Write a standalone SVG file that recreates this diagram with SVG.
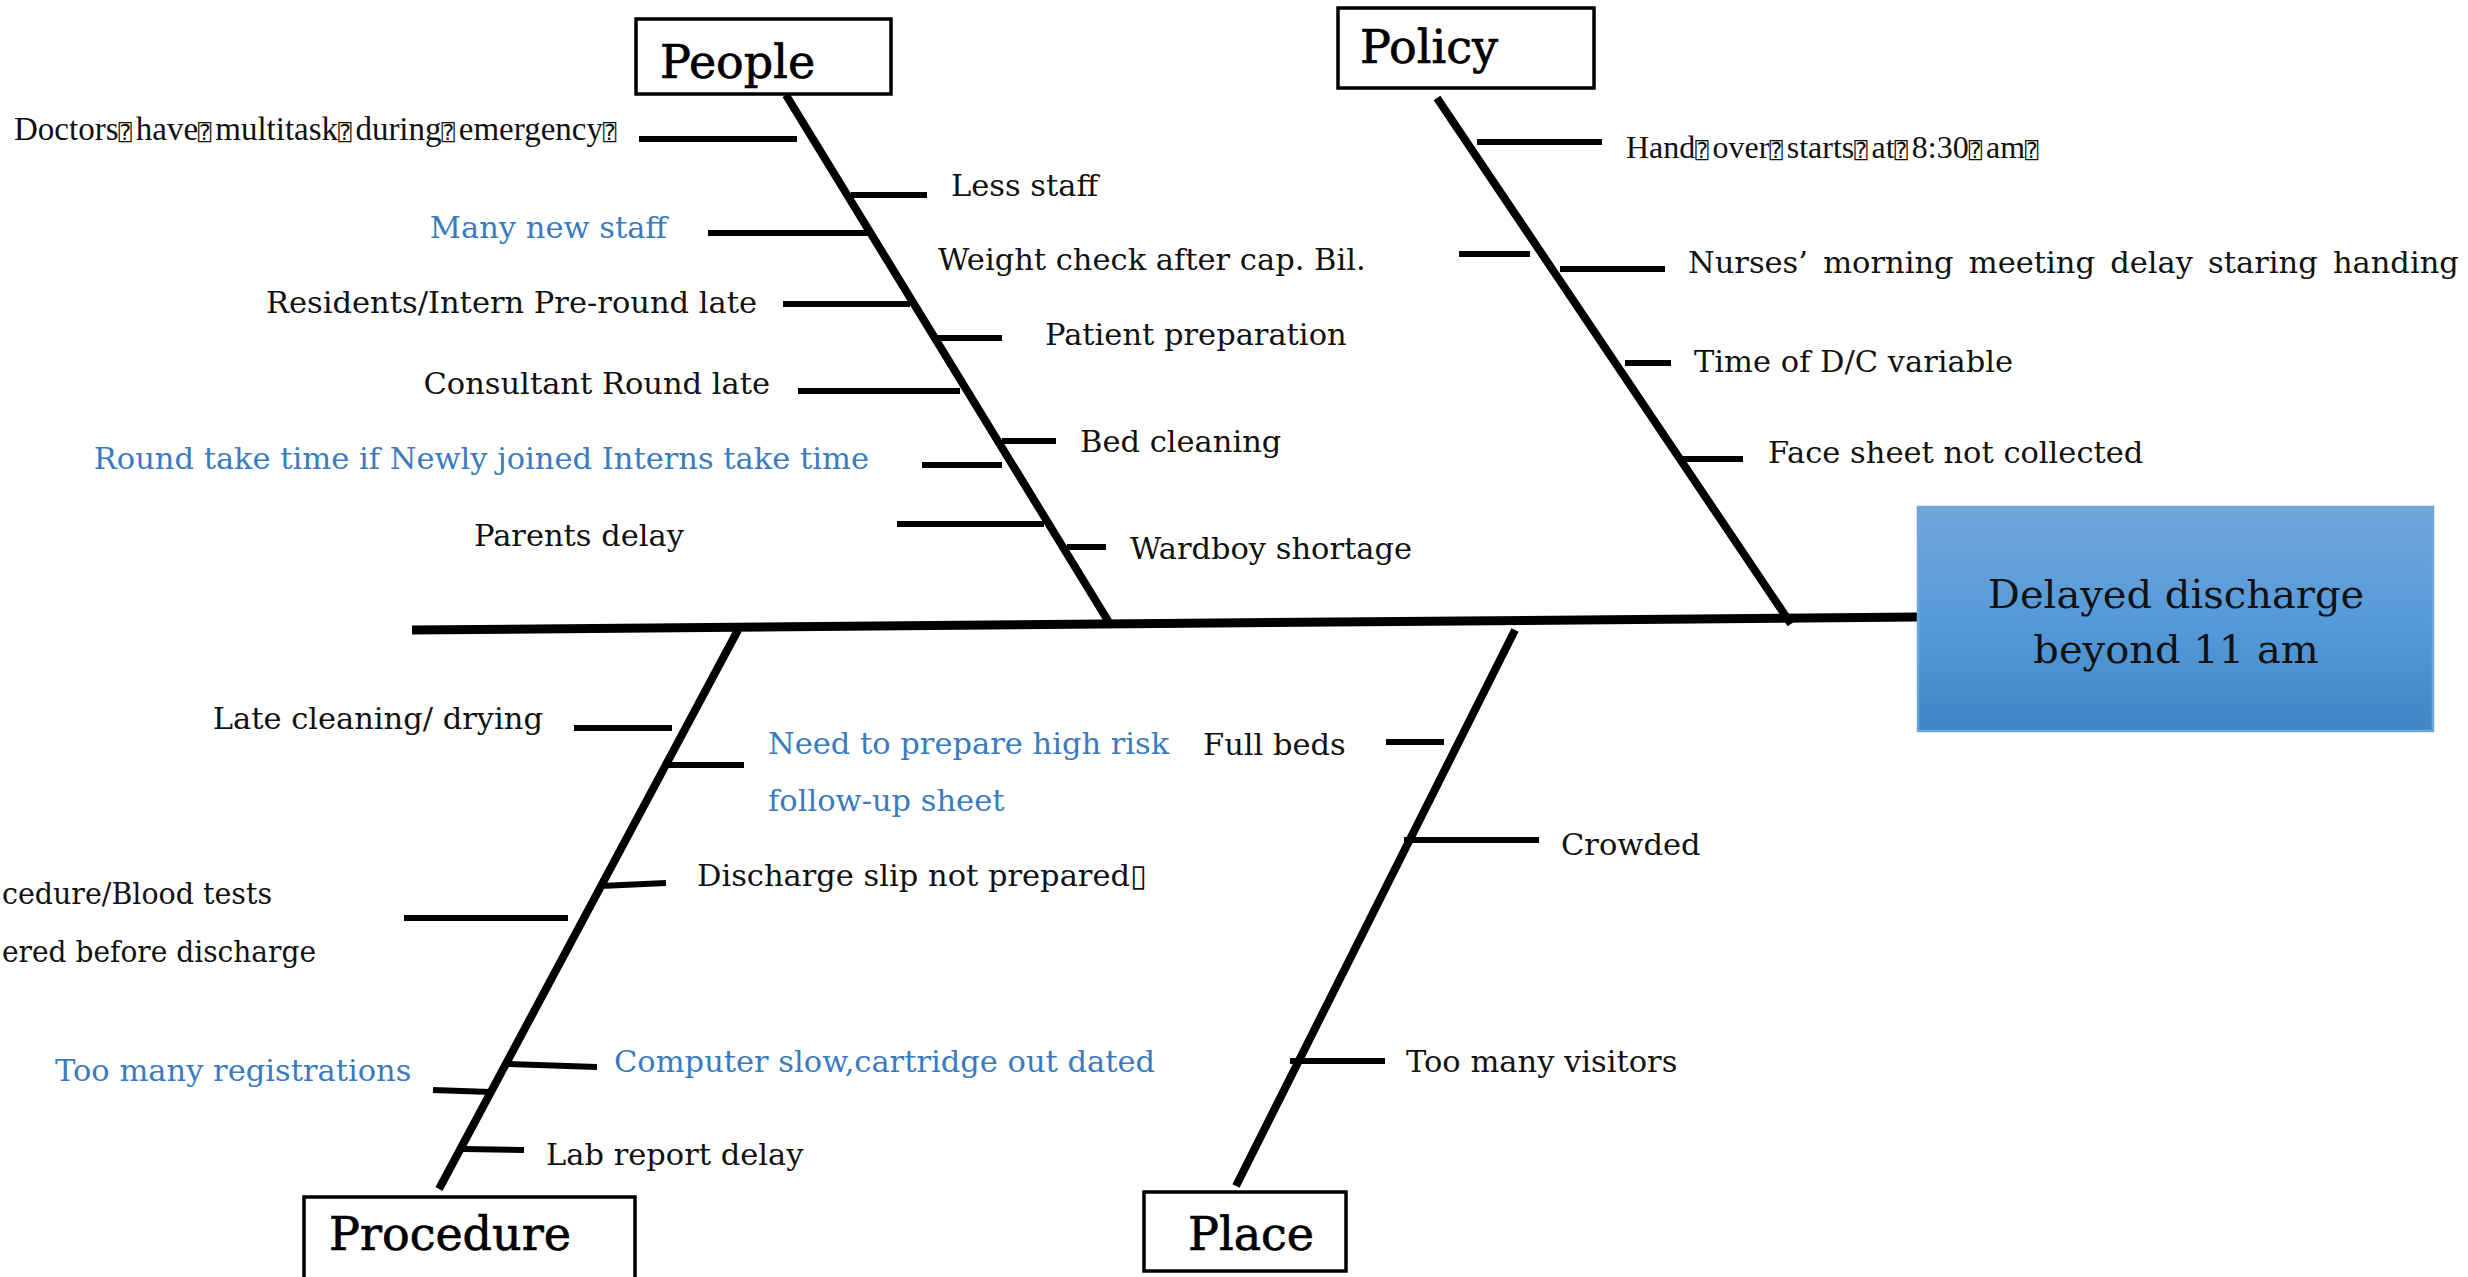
<svg xmlns="http://www.w3.org/2000/svg" width="2468" height="1277" viewBox="0 0 2468 1277">
<style>
.t{font-family:"DejaVu Serif","Liberation Serif",serif;font-size:30.5px;fill:#111}
.e{font-family:"DejaVu Serif","Liberation Serif",serif;font-size:40px;fill:#111}
.b{fill:#3a7bc0}
.c{font-family:"Liberation Serif",serif;fill:#111}
.q{font-family:"DejaVu Sans Mono","DejaVu Sans",monospace;font-size:22px;letter-spacing:4px}
.hd{font-family:"DejaVu Serif","Liberation Serif",serif;font-size:46px;fill:#000;stroke:#000;stroke-width:0.7}
.box{fill:#fff;stroke:#000;stroke-width:3.5}
.spine{stroke:#000;stroke-width:9;fill:none}
.bone{stroke:#000;stroke-width:8;fill:none}
.tick{stroke:#000;stroke-width:6;fill:none}
</style>
<defs>
<linearGradient id="eg" x1="0" y1="0" x2="0" y2="1">
<stop offset="0" stop-color="#71a6db"/>
<stop offset="0.5" stop-color="#559ad9"/>
<stop offset="1" stop-color="#4285c6"/>
</linearGradient>
</defs>
<rect width="2468" height="1277" fill="#fff"/>

<g id="connectors">
<line class="spine" x1="412" y1="630" x2="1918" y2="617"/>
<line class="bone" x1="786" y1="95" x2="1110" y2="624"/>
<line class="bone" x1="1437" y1="98" x2="1791" y2="624"/>
<line class="bone" x1="738" y1="630" x2="439" y2="1189"/>
<line class="bone" x1="1515" y1="630" x2="1236" y2="1186"/>
<!-- People ticks -->
<line class="tick" x1="639" y1="139" x2="797" y2="139"/>
<line class="tick" x1="851" y1="195" x2="927" y2="195"/>
<line class="tick" x1="708" y1="233" x2="868" y2="233"/>
<line class="tick" x1="783" y1="304" x2="910" y2="304"/>
<line class="tick" x1="937" y1="338" x2="1002" y2="338"/>
<line class="tick" x1="798" y1="391" x2="960" y2="391"/>
<line class="tick" x1="1002" y1="441" x2="1056" y2="441"/>
<line class="tick" x1="922" y1="465" x2="1002" y2="465"/>
<line class="tick" x1="897" y1="524" x2="1044" y2="524"/>
<line class="tick" x1="1067" y1="547" x2="1106" y2="547"/>
<!-- Policy ticks -->
<line class="tick" x1="1477" y1="142" x2="1602" y2="142"/>
<line class="tick" x1="1459" y1="254" x2="1530" y2="254"/>
<line class="tick" x1="1560" y1="269" x2="1665" y2="269"/>
<line class="tick" x1="1625" y1="363" x2="1671" y2="363"/>
<line class="tick" x1="1683" y1="459" x2="1743" y2="459"/>
<!-- Procedure ticks -->
<line class="tick" x1="574" y1="728" x2="672" y2="728"/>
<line class="tick" x1="668" y1="765" x2="744" y2="765"/>
<line class="tick" x1="601" y1="886" x2="666" y2="883"/>
<line class="tick" x1="404" y1="918" x2="568" y2="918"/>
<line class="tick" x1="433" y1="1090" x2="490" y2="1092"/>
<line class="tick" x1="506" y1="1064" x2="597" y2="1067"/>
<line class="tick" x1="463" y1="1149" x2="524" y2="1150"/>
<!-- Place ticks -->
<line class="tick" x1="1386" y1="742" x2="1444" y2="742"/>
<line class="tick" x1="1404" y1="840" x2="1539" y2="840"/>
<line class="tick" x1="1290" y1="1061" x2="1385" y2="1061"/>
</g>

<g id="effect">
<rect x="1918" y="507" width="515" height="224" fill="url(#eg)" stroke="#6ea6dc" stroke-width="2.5"/>
<text class="e" x="2176" y="608" text-anchor="middle">Delayed discharge</text>
<text class="e" x="2176" y="663" text-anchor="middle">beyond 11 am</text>
</g>

<g id="people">
<rect class="box" x="636" y="19" width="255" height="75"/>
<text class="hd" x="660" y="78">People</text>
</g>
<g id="policy">
<rect class="box" x="1338" y="8" width="256" height="80"/>
<text class="hd" x="1360" y="63">Policy</text>
</g>
<g id="procedure">
<rect class="box" x="304" y="1197" width="331" height="90"/>
<text class="hd" x="329" y="1250">Procedure</text>
</g>
<g id="place">
<rect class="box" x="1144" y="1192" width="202" height="79"/>
<text class="hd" x="1188" y="1250">Place</text>
</g>

<g id="people-causes">
<text class="c" x="14" y="140" font-size="33">Doctors<tspan class="q">⍰</tspan>have<tspan class="q">⍰</tspan>multitask<tspan class="q">⍰</tspan>during<tspan class="q">⍰</tspan>emergency<tspan class="q">⍰</tspan></text>
<text class="t" x="951" y="196">Less staff</text>
<text class="t b" x="667" y="238" text-anchor="end">Many new staff</text>
<text class="t" x="938" y="270">Weight check after cap. Bil.</text>
<text class="t" x="757" y="313" text-anchor="end">Residents/Intern Pre-round late</text>
<text class="t" x="1045" y="345">Patient preparation</text>
<text class="t" x="770" y="394" text-anchor="end">Consultant Round late</text>
<text class="t" x="1080" y="452">Bed cleaning</text>
<text class="t b" x="869" y="469" text-anchor="end">Round take time if Newly joined Interns take time</text>
<text class="t" x="474" y="546">Parents delay</text>
<text class="t" x="1130" y="559">Wardboy shortage</text>
</g>

<g id="policy-causes">
<text class="c" x="1626" y="158" font-size="32">Hand<tspan class="q">⍰</tspan>over<tspan class="q">⍰</tspan>starts<tspan class="q">⍰</tspan>at<tspan class="q">⍰</tspan>8:30<tspan class="q">⍰</tspan>am<tspan class="q">⍰</tspan></text>
<text class="t" x="1688" y="273" word-spacing="5.5">Nurses’ morning meeting delay staring handing</text>
<text class="t" x="1694" y="372">Time of D/C variable</text>
<text class="t" x="1768" y="463">Face sheet not collected</text>
</g>

<g id="procedure-causes">
<text class="t" x="543" y="729" text-anchor="end">Late cleaning/ drying</text>
<text class="t b" x="768" y="754">Need to prepare high risk</text>
<text class="t b" x="768" y="811">follow-up sheet</text>
<text class="t" x="697" y="886">Discharge slip not prepared<tspan font-family="DejaVu Sans">▯</tspan></text>
<text class="t" x="2" y="904" textLength="270" lengthAdjust="spacingAndGlyphs">cedure/Blood tests</text>
<text class="t" x="2" y="962" textLength="314" lengthAdjust="spacingAndGlyphs">ered before discharge</text>
<text class="t b" x="55" y="1081">Too many registrations</text>
<text class="t b" x="614" y="1072">Computer slow,cartridge out dated</text>
<text class="t" x="546" y="1165">Lab report delay</text>
</g>

<g id="place-causes">
<text class="t" x="1203" y="755">Full beds</text>
<text class="t" x="1561" y="855">Crowded</text>
<text class="t" x="1406" y="1072">Too many visitors</text>
</g>
</svg>
